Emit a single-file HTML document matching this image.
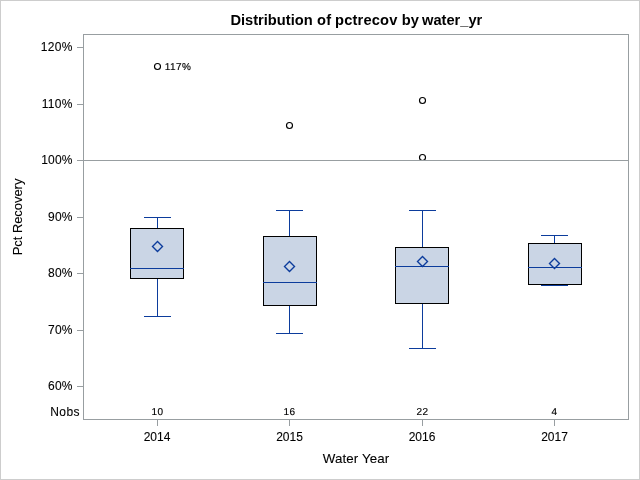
<!DOCTYPE html>
<html>
<head>
<meta charset="utf-8">
<title>Distribution of pctrecov by water_yr</title>
<style>
html,body{margin:0;padding:0;background:#fff;}
body{width:640px;height:480px;overflow:hidden;}
svg{display:block;font-family:"Liberation Sans",Arial,sans-serif;fill:#000;}
.t{font-size:14.67px;font-weight:bold;}
.l{font-size:13.33px;stroke:#000;stroke-width:0.1px;}
.v{font-size:12px;stroke:#000;stroke-width:0.1px;}
.d{text-rendering:geometricPrecision;font-size:10px;letter-spacing:0.45px;stroke:#000;stroke-width:0.15px;}
.ax{stroke:#989ea1;stroke-width:1;fill:none;shape-rendering:crispEdges;}
.bx{fill:#cad5e5;stroke:#000;stroke-width:1;shape-rendering:crispEdges;}
.w{stroke:#0c3c9c;stroke-width:1;fill:none;shape-rendering:crispEdges;}
.m{stroke:#0c3c9c;stroke-width:1.4;fill:none;}
.o{stroke:#000;stroke-width:1.15;fill:none;}
</style>
</head>
<body>
<svg width="640" height="480" viewBox="0 0 640 480">
<rect x="0.5" y="0.5" width="639" height="479" fill="#fff" stroke="#cdcdcd" stroke-width="1" shape-rendering="crispEdges"/>
<text class="t" y="25"><tspan x="230.4">Distribution </tspan><tspan x="316.9" letter-spacing="0.4">of </tspan><tspan x="335" letter-spacing="0.18">pctrecov </tspan><tspan x="401.8">by </tspan><tspan x="422">water_yr</tspan></text>

<!-- outliers -->
<circle class="o" cx="157.5" cy="66.5" r="3"/>
<circle class="o" cx="289.5" cy="125.5" r="3"/>
<circle class="o" cx="422.5" cy="100.5" r="3"/>
<circle class="o" cx="422.5" cy="157.5" r="3"/>
<text class="d" x="164.7" y="70">117%</text>

<!-- box 2014 -->
<path class="w" d="M157.5 217.5V228.5M144 217.5H171M157.5 278.5V316.5M144 316.5H171"/>
<rect class="bx" x="130.5" y="228.5" width="53" height="50"/>
<path class="w" d="M130 268.5H184"/>
<path class="m" d="M157.5 241.5L162.5 246.5L157.5 251.5L152.5 246.5Z"/>

<!-- box 2015 -->
<path class="w" d="M289.5 210.5V236.5M276 210.5H303M289.5 305.5V333.5M276 333.5H303"/>
<rect class="bx" x="263.5" y="236.5" width="53" height="69"/>
<path class="w" d="M263 282.5H317"/>
<path class="m" d="M289.5 261.5L294.5 266.5L289.5 271.5L284.5 266.5Z"/>

<!-- box 2016 -->
<path class="w" d="M422.5 210.5V247.5M409 210.5H436M422.5 303.5V348.5M409 348.5H436"/>
<rect class="bx" x="395.5" y="247.5" width="53" height="56"/>
<path class="w" d="M395 266.5H449"/>
<path class="m" d="M422.5 256.5L427.5 261.5L422.5 266.5L417.5 261.5Z"/>

<!-- box 2017 -->
<path class="w" d="M554.5 235.5V243.5M541 235.5H568M554.5 284.5V285.5M541 285.5H568"/>
<rect class="bx" x="528.5" y="243.5" width="53" height="41"/>
<path class="w" d="M528 267.5H582"/>
<path class="m" d="M554.5 258.5L559.5 263.5L554.5 268.5L549.5 263.5Z"/>

<!-- reference line -->
<path class="ax" d="M84 160.5H628"/>

<!-- frame -->
<rect class="ax" x="83.5" y="34.5" width="545" height="385"/>
<!-- y ticks -->
<path class="ax" d="M77 47.5H83M77 104.5H83M77 160.5H83M77 217.5H83M77 273.5H83M77 330.5H83M77 386.5H83"/>
<!-- x ticks -->
<path class="ax" d="M157.5 420V426M289.5 420V426M422.5 420V426M554.5 420V426"/>

<g class="v" text-anchor="end">
<text x="72.9" y="51" letter-spacing="0.35">120%</text>
<text x="72.9" y="108" letter-spacing="0.35">110%</text>
<text x="72.7" y="164" letter-spacing="0.2">100%</text>
<text x="72.7" y="221" letter-spacing="0.2">90%</text>
<text x="72.7" y="277" letter-spacing="0.2">80%</text>
<text x="72.7" y="334" letter-spacing="0.2">70%</text>
<text x="72.7" y="390" letter-spacing="0.2">60%</text>
<text x="79.9" y="416" letter-spacing="0.4">Nobs</text>
</g>
<g class="d" text-anchor="middle">
<text x="157.5" y="415">10</text>
<text x="289.5" y="415">16</text>
<text x="422.5" y="415">22</text>
<text x="554.5" y="415">4</text>
</g>
<g class="v" text-anchor="middle">
<text x="157" y="441">2014</text>
<text x="289.5" y="441">2015</text>
<text x="422" y="441">2016</text>
<text x="554.5" y="441">2017</text>
</g>
<text class="l" x="356.1" y="463" text-anchor="middle" letter-spacing="0.1">Water Year</text>
<text class="l" style="font-size:12.9px" transform="translate(22.4,217) rotate(-90)" text-anchor="middle">Pct Recovery</text>
</svg>
</body>
</html>
